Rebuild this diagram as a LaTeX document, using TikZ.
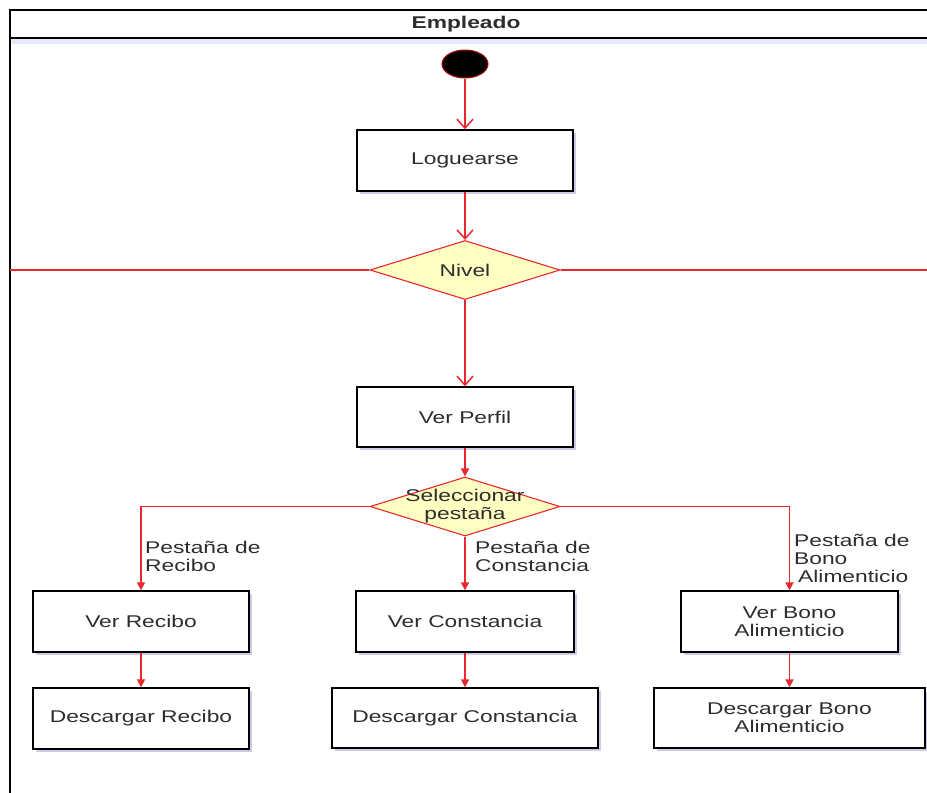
\documentclass[tikz,border=0pt]{standalone}
\usepackage{fontspec}
\setmainfont{Liberation Sans}[FakeStretch=1.34]
\usetikzlibrary{arrows.meta,shapes.geometric,shadows}
\definecolor{flow}{RGB}{232,40,45}
\definecolor{diafill}{RGB}{255,255,196}
\definecolor{txtcol}{RGB}{45,45,45}
\tikzset{
  actbox/.style={draw=black, line width=1.4pt, fill=white, inner sep=0pt, align=center,
    text=txtcol, drop shadow={shadow xshift=2.5pt, shadow yshift=-3pt, opacity=0.3, fill=gray!70!blue}},
  dia/.style={diamond, draw=flow, line width=1.1pt, fill=diafill, inner sep=0pt,
    minimum width=190pt, minimum height=59pt},
  diatxt/.style={text=txtcol, align=center, inner sep=0pt},
  lbl/.style={text=txtcol, align=left, inner sep=0pt, anchor=west},
  openarr/.style={draw=flow, line width=1.7pt, -{Straight Barb[length=9pt,width=16pt,line width=1.5pt]}},
  fillarr/.style={draw=flow, line width=1.7pt, -{Triangle[length=8pt,width=8pt]}},
  flowline/.style={draw=flow, line width=1.5pt},
}
\begin{document}
\begin{tikzpicture}[x=1pt,y=-1pt, font=\fontsize{17pt}{18pt}\selectfont]
\useasboundingbox (0,0) rectangle (927,793);
\fill[white] (0,0) rectangle (927,793);
% frame
\draw[line width=1.8pt] (10,793) -- (10,10) -- (927,10);
\fill[gray!25!blue!10] (11,39) rectangle (927,44);
\draw[line width=1.8pt] (10,38) -- (927,38);
\node[text=txtcol, inner sep=0pt] (title) at (466,24) {\bfseries Empleado};
% nodes
\node[ellipse, fill=black, draw=red!70!black, line width=1pt, minimum width=46pt, minimum height=28pt, inner sep=0pt] (start) at (465,64) {};
\node[actbox, minimum width=216pt, minimum height=61pt] (log) at (465,160.5) {Loguearse};
\node[dia] (nivel) at (465,270) {};
\node[diatxt] (niveltxt) at (nivel) {Nivel};
\node[actbox, minimum width=216pt, minimum height=60pt] (perfil) at (465,417) {Ver Perfil};
\node[dia] (sel) at (465,506.5) {};
\node[diatxt] (seltxt) at (sel) {Seleccionar\\pestaña};
\node[actbox, minimum width=216pt, minimum height=61pt] (recibo) at (141,621.5) {Ver Recibo};
\node[actbox, minimum width=216pt, minimum height=61pt] (drecibo) at (141,718.5) {Descargar Recibo};
\node[actbox, minimum width=218pt, minimum height=61pt] (const) at (465,621.5) {Ver Constancia};
\node[actbox, minimum width=266pt, minimum height=60pt] (dconst) at (465,718) {Descargar Constancia};
\node[actbox, minimum width=217pt, minimum height=61pt] (bono) at (789.5,621.5) {Ver Bono\\Alimenticio};
\node[actbox, minimum width=271pt, minimum height=60pt] (dbono) at (789.5,718) {Descargar Bono\\Alimenticio};
% labels
\node[lbl] (lrec) at (145,556.5) {Pestaña de\\Recibo};
\node[lbl] (lcon) at (475,556.5) {Pestaña de\\Constancia};
\node[lbl] (lbon) at (794,558.5) {Pestaña de\\Bono\\\hspace{4pt}Alimenticio};
% connectors
\coordinate (nl) at (10,270);
\coordinate (nr) at (927,270);
\draw[openarr] (start) -- (log);
\draw[openarr] (log) -- (nivel);
\draw[flowline] (nivel.west) -- (nl);
\draw[flowline] (nivel.east) -- (nr);
\draw[openarr] (nivel) -- (perfil);
\draw[fillarr] (perfil) -- (sel);
\draw[fillarr] (sel.west) -| (recibo.north);
\draw[fillarr] (sel.south) -- (const.north);
\draw[fillarr] (sel.east) -| (bono.north);
\draw[fillarr] (recibo) -- (drecibo);
\draw[fillarr] (const) -- (dconst);
\draw[fillarr] (bono) -- (dbono);
\end{tikzpicture}
\end{document}
